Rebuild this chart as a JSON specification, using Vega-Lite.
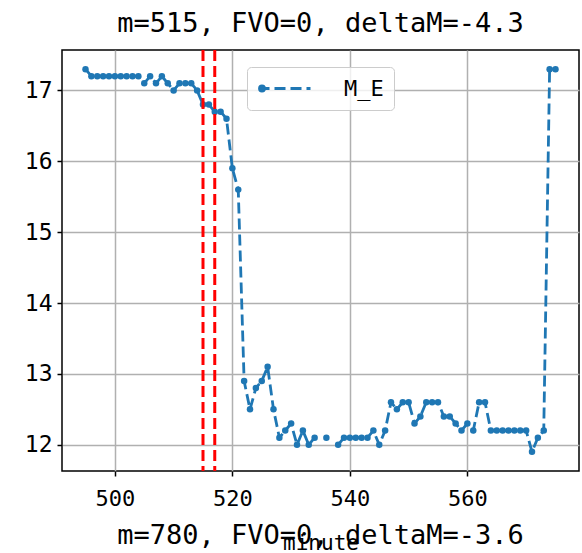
{
  "$schema": "https://vega.github.io/schema/vega-lite/v6.json",
  "width": 517,
  "height": 421,
  "autosize": {"type": "none"},
  "padding": {"left": 62, "top": 50, "right": 3, "bottom": 82},
  "background": "white",
  "title": {"text": "m=515, FVO=0, deltaM=-4.3", "font": "DejaVu Sans Mono", "fontSize": 27, "fontWeight": "normal", "color": "black", "anchor": "middle", "offset": 11},
  "config": {
    "view": {"stroke": "black", "strokeWidth": 1.5},
    "axis": {"labelFont": "DejaVu Sans Mono", "labelFontSize": 22, "labelColor": "black", "tickColor": "black", "tickSize": 5, "tickWidth": 1.5, "domain": false, "gridColor": "#b0b0b0", "gridWidth": 1.5, "gridOpacity": 1, "titleFont": "DejaVu Sans Mono", "titleFontSize": 21, "titleFontWeight": "normal", "titleColor": "black"}
  },
  "data": {"values": [
    {"minute": 495, "M_E": 17.3, "series": "M_E"},
    {"minute": 496, "M_E": 17.2, "series": "M_E"},
    {"minute": 497, "M_E": 17.2, "series": "M_E"},
    {"minute": 498, "M_E": 17.2, "series": "M_E"},
    {"minute": 499, "M_E": 17.2, "series": "M_E"},
    {"minute": 500, "M_E": 17.2, "series": "M_E"},
    {"minute": 501, "M_E": 17.2, "series": "M_E"},
    {"minute": 502, "M_E": 17.2, "series": "M_E"},
    {"minute": 503, "M_E": 17.2, "series": "M_E"},
    {"minute": 504, "M_E": 17.2, "series": "M_E"},
    {"minute": 505, "M_E": 17.1, "series": "M_E"},
    {"minute": 506, "M_E": 17.2, "series": "M_E"},
    {"minute": 507, "M_E": 17.1, "series": "M_E"},
    {"minute": 508, "M_E": 17.2, "series": "M_E"},
    {"minute": 509, "M_E": 17.1, "series": "M_E"},
    {"minute": 510, "M_E": 17.0, "series": "M_E"},
    {"minute": 511, "M_E": 17.1, "series": "M_E"},
    {"minute": 512, "M_E": 17.1, "series": "M_E"},
    {"minute": 513, "M_E": 17.1, "series": "M_E"},
    {"minute": 514, "M_E": 17.0, "series": "M_E"},
    {"minute": 515, "M_E": 16.8, "series": "M_E"},
    {"minute": 516, "M_E": 16.8, "series": "M_E"},
    {"minute": 517, "M_E": 16.7, "series": "M_E"},
    {"minute": 518, "M_E": 16.7, "series": "M_E"},
    {"minute": 519, "M_E": 16.6, "series": "M_E"},
    {"minute": 520, "M_E": 15.9, "series": "M_E"},
    {"minute": 521, "M_E": 15.6, "series": "M_E"},
    {"minute": 522, "M_E": 12.9, "series": "M_E"},
    {"minute": 523, "M_E": 12.5, "series": "M_E"},
    {"minute": 524, "M_E": 12.8, "series": "M_E"},
    {"minute": 525, "M_E": 12.9, "series": "M_E"},
    {"minute": 526, "M_E": 13.1, "series": "M_E"},
    {"minute": 527, "M_E": 12.5, "series": "M_E"},
    {"minute": 528, "M_E": 12.1, "series": "M_E"},
    {"minute": 529, "M_E": 12.2, "series": "M_E"},
    {"minute": 530, "M_E": 12.3, "series": "M_E"},
    {"minute": 531, "M_E": 12.0, "series": "M_E"},
    {"minute": 532, "M_E": 12.2, "series": "M_E"},
    {"minute": 533, "M_E": 12.0, "series": "M_E"},
    {"minute": 534, "M_E": 12.1, "series": "M_E"},
    {"minute": 535, "M_E": null, "series": "M_E"},
    {"minute": 536, "M_E": 12.1, "series": "M_E"},
    {"minute": 537, "M_E": null, "series": "M_E"},
    {"minute": 538, "M_E": 12.0, "series": "M_E"},
    {"minute": 539, "M_E": 12.1, "series": "M_E"},
    {"minute": 540, "M_E": 12.1, "series": "M_E"},
    {"minute": 541, "M_E": 12.1, "series": "M_E"},
    {"minute": 542, "M_E": 12.1, "series": "M_E"},
    {"minute": 543, "M_E": 12.1, "series": "M_E"},
    {"minute": 544, "M_E": 12.2, "series": "M_E"},
    {"minute": 545, "M_E": 12.0, "series": "M_E"},
    {"minute": 546, "M_E": 12.2, "series": "M_E"},
    {"minute": 547, "M_E": 12.6, "series": "M_E"},
    {"minute": 548, "M_E": 12.5, "series": "M_E"},
    {"minute": 549, "M_E": 12.6, "series": "M_E"},
    {"minute": 550, "M_E": 12.6, "series": "M_E"},
    {"minute": 551, "M_E": 12.3, "series": "M_E"},
    {"minute": 552, "M_E": 12.4, "series": "M_E"},
    {"minute": 553, "M_E": 12.6, "series": "M_E"},
    {"minute": 554, "M_E": 12.6, "series": "M_E"},
    {"minute": 555, "M_E": 12.6, "series": "M_E"},
    {"minute": 556, "M_E": 12.4, "series": "M_E"},
    {"minute": 557, "M_E": 12.4, "series": "M_E"},
    {"minute": 558, "M_E": 12.3, "series": "M_E"},
    {"minute": 559, "M_E": 12.2, "series": "M_E"},
    {"minute": 560, "M_E": 12.3, "series": "M_E"},
    {"minute": 561, "M_E": 12.2, "series": "M_E"},
    {"minute": 562, "M_E": 12.6, "series": "M_E"},
    {"minute": 563, "M_E": 12.6, "series": "M_E"},
    {"minute": 564, "M_E": 12.2, "series": "M_E"},
    {"minute": 565, "M_E": 12.2, "series": "M_E"},
    {"minute": 566, "M_E": 12.2, "series": "M_E"},
    {"minute": 567, "M_E": 12.2, "series": "M_E"},
    {"minute": 568, "M_E": 12.2, "series": "M_E"},
    {"minute": 569, "M_E": 12.2, "series": "M_E"},
    {"minute": 570, "M_E": 12.2, "series": "M_E"},
    {"minute": 571, "M_E": 11.9, "series": "M_E"},
    {"minute": 572, "M_E": 12.1, "series": "M_E"},
    {"minute": 573, "M_E": 12.2, "series": "M_E"},
    {"minute": 574, "M_E": 17.3, "series": "M_E"},
    {"minute": 575, "M_E": 17.3, "series": "M_E"}
  ]},
  "layer": [
    {
      "mark": {"type": "line", "color": "#1f77b4", "strokeWidth": 2.8, "strokeDash": [11, 5], "invalid": "break-paths-filter-domains"},
      "encoding": {
        "x": {"field": "minute", "type": "quantitative", "scale": {"domain": [491, 579], "nice": false, "zero": false},
              "axis": {"values": [500, 520, 540, 560], "format": "d", "title": "minute", "labelPadding": 12, "titleBaseline": "alphabetic", "titleY": 78, "labelFlush": false}},
        "y": {"field": "M_E", "type": "quantitative", "scale": {"domain": [11.63, 17.57], "nice": false, "zero": false},
              "axis": {"values": [12, 13, 14, 15, 16, 17], "format": "d", "title": null, "labelPadding": 5, "labelFontSize": 23}}
      }
    },
    {
      "mark": {"type": "point", "filled": true, "size": 42, "opacity": 1},
      "encoding": {
        "x": {"field": "minute", "type": "quantitative"},
        "y": {"field": "M_E", "type": "quantitative"},
        "color": {"field": "series", "type": "nominal", "scale": {"range": ["#1f77b4"]},
                  "legend": {"orient": "none", "legendX": 185, "legendY": 17, "title": null,
                             "labelFont": "DejaVu Sans Mono", "labelFontSize": 22, "labelColor": "black",
                             "symbolType": "M-1,0H0.1M0.6,0H1.7M2.2,0H3.3M3.8,0H4.2M-0.4,0A0.25,0.25 0 1,1 -0.9,0A0.25,0.25 0 1,1 -0.4,0Z",
                             "symbolSize": 400, "symbolFillColor": "#1f77b4", "symbolStrokeColor": "#1f77b4", "symbolStrokeWidth": 2.8,
                             "labelOffset": 64, "padding": 10, "strokeColor": "#cccccc", "fillColor": "rgba(255,255,255,0.8)", "cornerRadius": 4}}
      }
    },
    {
      "data": {"values": [{"minute": 515}, {"minute": 517}]},
      "mark": {"type": "rule", "color": "red", "strokeWidth": 3, "strokeDash": [11, 5]},
      "encoding": {"x": {"field": "minute", "type": "quantitative"}}
    },
    {
      "data": {"values": [{"label": "m=780, FVO=0, deltaM=-3.6"}]},
      "mark": {"type": "text", "font": "DejaVu Sans Mono", "fontSize": 27, "color": "black", "baseline": "alphabetic", "align": "center", "clip": false},
      "encoding": {
        "x": {"datum": 535, "type": "quantitative"},
        "y": {"datum": 10.6, "type": "quantitative"},
        "text": {"field": "label", "type": "nominal"}
      }
    }
  ]
}
